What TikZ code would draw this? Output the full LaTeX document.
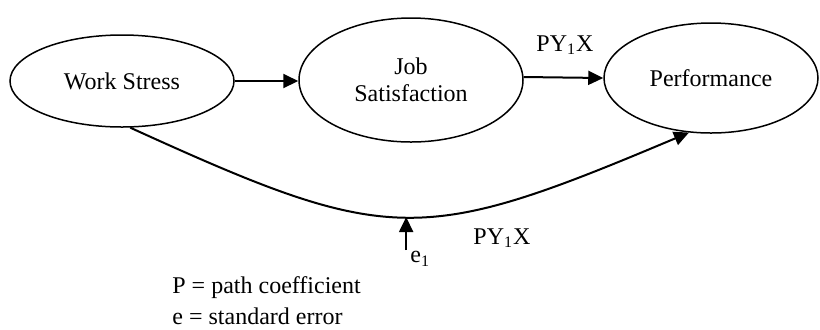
\documentclass[tikz,border=0pt]{standalone}
\usepackage{fontspec}
\setmainfont{Liberation Serif}
\usetikzlibrary{arrows.meta, positioning, shapes.geometric}
\tikzset{
  latent/.style={draw, ellipse, line width=0.75pt, inner sep=0pt, align=center, font=\fontsize{12}{13.5}\selectfont},
  path arrow/.style={line width=1pt, -{Triangle[length=7.5pt,width=7pt]}},
  lab/.style={font=\fontsize{12}{13.5}\selectfont, inner sep=0pt}
}
\begin{document}
\begin{tikzpicture}[x=0.5pt, y=-0.5pt]
  \useasboundingbox (0,0) rectangle (820,329);
  % the three constructs
  \node[latent, minimum width=112pt, minimum height=46pt] (stress) at (122,81) {Work Stress};
  \node[latent, minimum width=112pt, minimum height=62pt] (jobsat) at (411,80) {Job\\Satisfaction};
  \node[latent, minimum width=107pt, minimum height=55pt] (perf) at (711,78) {Performance};
  % paths
  \draw[path arrow] (stress.east) -- (stress.east -| jobsat.west);
  \draw[path arrow] (jobsat.east |- 0,77) -- (perf.west);
  \draw[path arrow]
    (stress.-80) .. controls (390,246) and (420,246) .. (perf.-112)
    coordinate[pos=0.5] (low);
  \coordinate (err) at (low |- 0,250);
  \draw[path arrow] (err) -- (low);
  % labels
  \node[lab] (pyx1) at (565,45) {PY\textsubscript{1}X};
  \node[lab] (pyx2) at (502,238) {PY\textsubscript{1}X};
  \node[lab, anchor=north west] (e1) at (410,251) {e\textsubscript{1}};
  \node[lab, anchor=west] (legp) at (172,288) {P = path coefficient};
  \node[lab, anchor=west] (lege) at (172,316) {e = standard error};
\end{tikzpicture}
\end{document}
